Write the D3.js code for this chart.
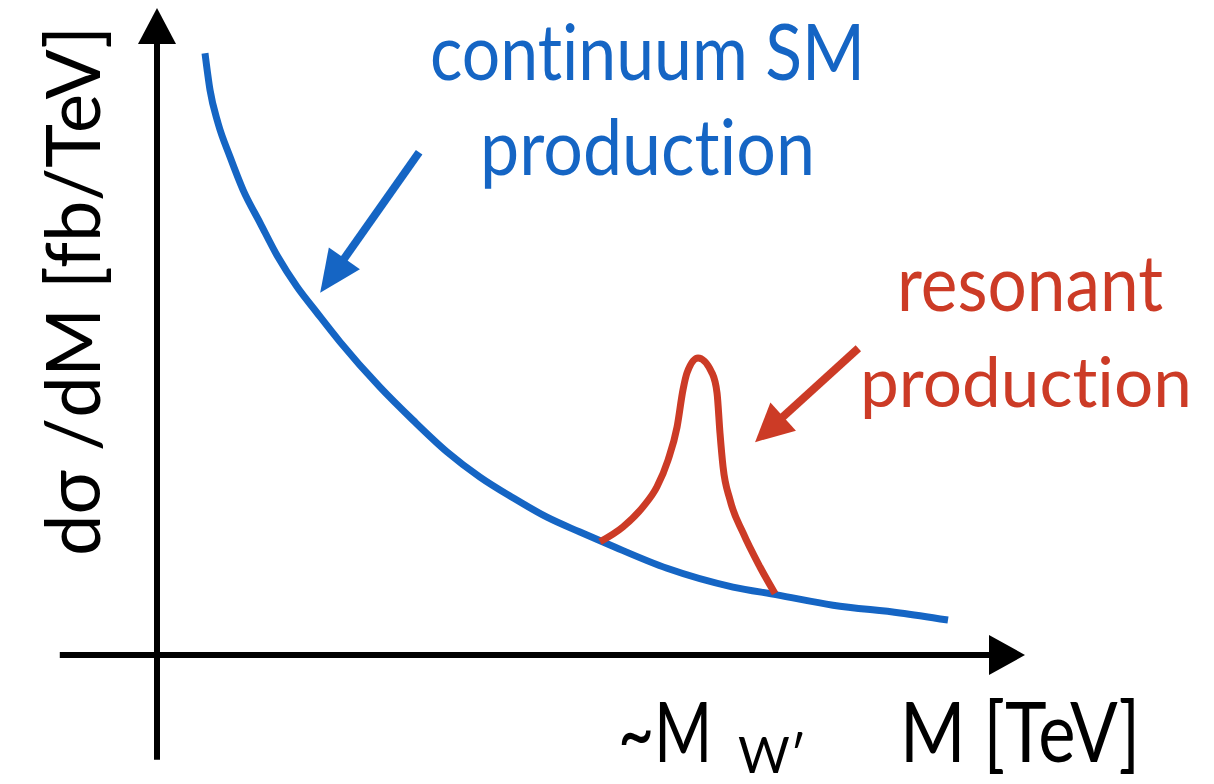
<!DOCTYPE html>
<html lang="en">
<head>
  <meta charset="UTF-8" />
  <title>Continuum vs resonant production</title>
  <script src="https://d3js.org/d3.v7.min.js"></script>
  <style>
    body { margin: 0; background: #fff; }
    svg { display: block; }
    text {
      font-family: Lato, "Open Sans", sans-serif;
      font-variant-ligatures: none;
      font-feature-settings: "liga" 0, "clig" 0;
    }
  </style>
</head>
<body>
  <div id="chart"></div>
  <script>
    // ---------- DATA (schematic units: 0..100 up to the arrow tips) ----------
    const smMass = [5.53, 6.11, 7.03, 8.41, 9.91, 11.87, 13.94, 16.13, 18.43, 21.08, 25.69, 29.49, 33.41, 37.21, 41.01, 44.93, 48.73, 52.19, 58.76, 66.36, 71.43, 77.88, 85.60, 91.13];
    const smXsec = [93.0, 87.3, 82.2, 77.0, 71.9, 66.8, 61.5, 56.9, 52.9, 48.4, 41.4, 36.3, 31.4, 27.5, 24.3, 21.3, 19.0, 17.0, 13.4, 10.5, 9.3, 7.7, 6.5, 5.4];

    const resMass = [51.04, 53.69, 55.99, 57.60, 58.87, 59.91, 60.60, 61.06, 62.33, 63.94, 64.52, 64.86, 65.21, 66.01, 67.51, 69.47, 71.20];
    const resXsec = [17.5, 19.8, 22.9, 26.0, 30.1, 35.2, 41.0, 43.6, 45.9, 43.6, 40.5, 34.3, 29.1, 24.0, 18.9, 13.6, 9.5];

    // annotation arrows: [tailX, tailY, tipX, tipY]
    const smArrow = [30.2, 77.7, 18.8, 56.0];
    const resArrow = [80.8, 47.4, 68.9, 32.9];

    const yLabel = "dσ /dM [fb/TeV]";
    const xLabel = "M [TeV]";
    const massLabel = ["~M", "W′"];
    const smLabel = ["continuum SM", "production"];
    const resLabel = ["resonant", "production"];

    // ---------- LAYOUT ----------
    const width = 1214, height = 784;
    const blue = "#1565c4", red = "#cc3b26";

    const svg = d3.select("#chart").append("svg")
      .attr("width", width).attr("height", height);

    const x = d3.scaleLinear().domain([0, 100]).range([157, 1025]);
    const y = d3.scaleLinear().domain([0, 100]).range([655, 8]);

    // line ending in a filled triangle head
    function arrow(x1, y1, x2, y2, color, lw, len, half) {
      const ang = Math.atan2(y2 - y1, x2 - x1);
      const bx = x2 - len * Math.cos(ang), by = y2 - len * Math.sin(ang);
      const nx = -Math.sin(ang) * half, ny = Math.cos(ang) * half;
      svg.append("line")
        .attr("x1", x1).attr("y1", y1)
        .attr("x2", bx + Math.cos(ang)).attr("y2", by + Math.sin(ang))
        .attr("stroke", color).attr("stroke-width", lw);
      svg.append("path")
        .attr("d", `M${x2},${y2}L${bx + nx},${by + ny}L${bx - nx},${by - ny}Z`)
        .attr("fill", color);
    }

    // axes
    arrow(x(-11.2), y(0), x(100), y(0), "#000", 6, 36, 20);
    arrow(x(0), y(-16.2), x(0), y(100), "#000", 6, 36, 19);

    // curves
    const line = d3.line()
      .x(d => x(d[0]))
      .y(d => y(d[1]))
      .curve(d3.curveMonotoneX);

    svg.append("path")
      .attr("d", line(d3.zip(smMass, smXsec)))
      .attr("fill", "none").attr("stroke", blue).attr("stroke-width", 7);

    svg.append("path")
      .attr("d", line(d3.zip(resMass, resXsec)))
      .attr("fill", "none").attr("stroke", red).attr("stroke-width", 7)
      .attr("stroke-linejoin", "round");

    // annotation arrows
    arrow(x(smArrow[0]), y(smArrow[1]), x(smArrow[2]), y(smArrow[3]), blue, 8, 42, 19);
    arrow(x(resArrow[0]), y(resArrow[1]), x(resArrow[2]), y(resArrow[3]), red, 8, 38, 19);

    // labels
    svg.append("text")
      .attr("transform", "translate(100,556) rotate(-90)")
      .attr("font-size", 76)
      .attr("textLength", 530).attr("lengthAdjust", "spacingAndGlyphs")
      .text(yLabel);

    svg.append("text")
      .attr("x", 900).attr("y", 762)
      .attr("font-size", 84)
      .attr("textLength", 240).attr("lengthAdjust", "spacingAndGlyphs")
      .text(xLabel);

    svg.append("text")
      .attr("x", 618).attr("y", 762)
      .attr("font-size", 84)
      .attr("textLength", 94).attr("lengthAdjust", "spacingAndGlyphs")
      .text(massLabel[0]);
    svg.append("text")
      .attr("x", 738).attr("y", 773)
      .attr("font-size", 50)
      .text(massLabel[1]);

    svg.selectAll(".smLabel")
      .data(smLabel)
      .join("text")
      .attr("class", "smLabel")
      .attr("x", (d, i) => i ? 480 : 430)
      .attr("y", (d, i) => i ? 175 : 80)
      .attr("font-size", 78)
      .attr("fill", blue)
      .attr("textLength", (d, i) => i ? 335 : 435)
      .attr("lengthAdjust", "spacingAndGlyphs")
      .text(d => d);

    svg.selectAll(".resLabel")
      .data(resLabel)
      .join("text")
      .attr("class", "resLabel")
      .attr("x", (d, i) => i ? 860 : 897)
      .attr("y", (d, i) => i ? 407 : 311)
      .attr("font-size", (d, i) => i ? 70 : 78)
      .attr("fill", red)
      .attr("textLength", (d, i) => i ? 332 : 266)
      .attr("lengthAdjust", "spacingAndGlyphs")
      .text(d => d);
  </script>
</body>
</html>
